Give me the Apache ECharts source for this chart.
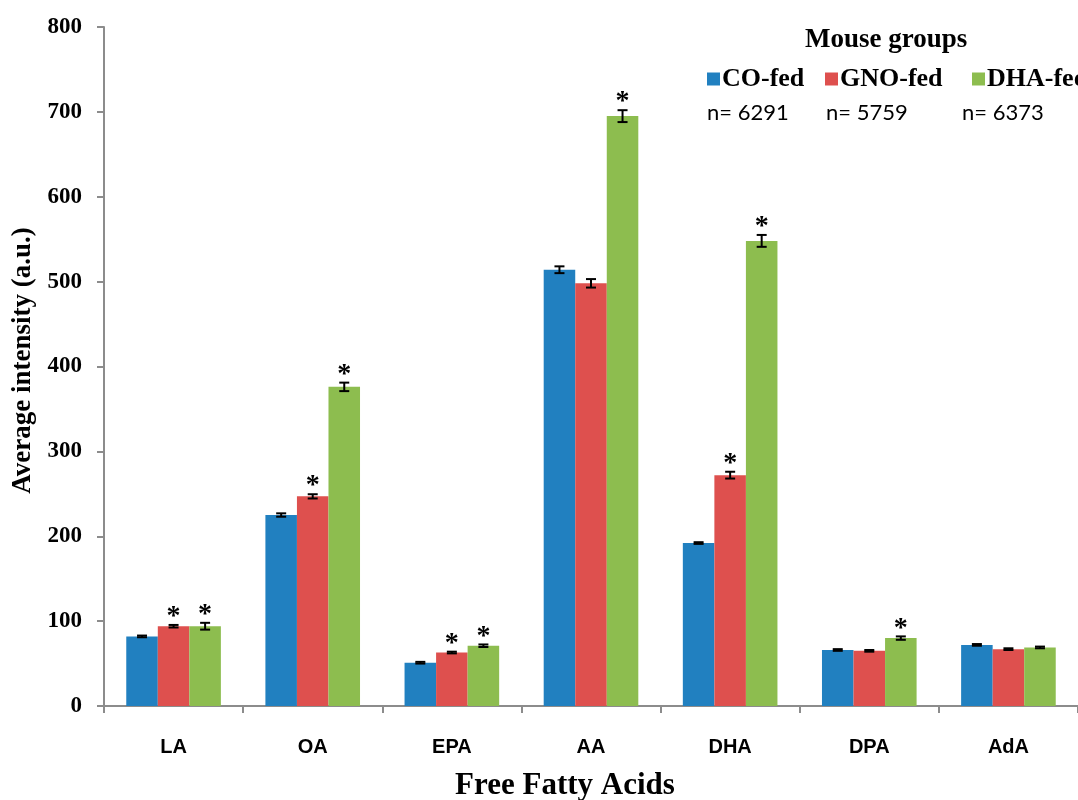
<!DOCTYPE html>
<html>
<head>
<meta charset="utf-8">
<script src="https://cdn.jsdelivr.net/npm/echarts@6/dist/echarts.min.js"></script>
<style>
html,body{margin:0;padding:0;background:#fff;}
#chart{width:1078px;height:800px;}
</style>
</head>
<body>
<div id="chart"></div>
<script>
var categories = ['LA', 'OA', 'EPA', 'AA', 'DHA', 'DPA', 'AdA'];
var groupNames = ['CO-fed', 'GNO-fed', 'DHA-fed'];
var groupN = ['n= 6291', 'n= 5759', 'n= 6373'];
var coValues  = [82, 225, 51, 514, 192, 66, 72];
var gnoValues = [94, 247, 63, 498, 272, 65, 67];
var dhaValues = [94, 376, 71, 695, 548, 80, 69];
var coErr  = [1, 2, 1, 4, 1, 1, 1];
var gnoErr = [1.5, 2.5, 1, 5, 4, 1, 1];
var dhaErr = [4, 5, 1.5, 7, 7, 2, 1];
var coSig  = [0, 0, 0, 0, 0, 0, 0];
var gnoSig = [1, 1, 1, 0, 1, 0, 0];
var dhaSig = [1, 1, 1, 1, 1, 1, 0];
var yTicks = [0, 100, 200, 300, 400, 500, 600, 700, 800];

var colors = ['#2180C0', '#DE504E', '#8DBD4F'];
var values = [coValues, gnoValues, dhaValues];
var errs = [coErr, gnoErr, dhaErr];
var sigs = [coSig, gnoSig, dhaSig];
var CAT_GAP = 0.32;

var serif = '"Liberation Serif", "Times New Roman", serif';
var sans = '"Liberation Sans", Arial, sans-serif';

var chart = echarts.init(document.getElementById('chart'), null, {renderer: 'canvas'});

function makeErrSeries(gi) {
  var data = categories.map(function (c, i) {
    return [i, values[gi][i], errs[gi][i], sigs[gi][i]];
  });
  return {
    type: 'custom',
    name: groupNames[gi] + ' err',
    data: data,
    encode: {x: 0, y: 1},
    z: 10,
    silent: true,
    clip: false,
    renderItem: function (params, api) {
      var idx = api.value(0), v = api.value(1), e = api.value(2), s = api.value(3);
      var catW = api.size([1, 0])[0];
      var barW = catW * (1 - CAT_GAP) / 3;
      var cx = api.coord([idx, v])[0] + (gi - 1) * barW;
      var yTop = api.coord([idx, v + e])[1];
      var yBot = api.coord([idx, v - e])[1];
      var cap = 5;
      var style = {stroke: '#000', lineWidth: 2};
      var children = [
        {type: 'line', shape: {x1: cx, y1: yTop, x2: cx, y2: yBot}, style: style},
        {type: 'line', shape: {x1: cx - cap, y1: yTop, x2: cx + cap, y2: yTop}, style: style},
        {type: 'line', shape: {x1: cx - cap, y1: yBot, x2: cx + cap, y2: yBot}, style: style}
      ];
      if (s) {
        children.push({
          type: 'text',
          style: {
            text: '*', x: cx, y: yTop + 6,
            align: 'center', verticalAlign: 'bottom',
            font: 'bold 28px ' + serif, fill: '#000'
          }
        });
      }
      return {type: 'group', children: children};
    }
  };
}

var series = [];
for (var g = 0; g < 3; g++) {
  series.push({
    type: 'bar',
    name: groupNames[g],
    data: values[g],
    barGap: '0%',
    barCategoryGap: (CAT_GAP * 100) + '%',
    itemStyle: {color: colors[g]},
    z: 2
  });
}
for (var g2 = 0; g2 < 3; g2++) series.push(makeErrSeries(g2));

var legendLefts = [707, 825, 972];
var legends = groupNames.map(function (n, i) {
  return {
    data: [n],
    left: legendLefts[i],
    top: 66,
    padding: 0,
    icon: 'rect',
    itemWidth: 13,
    itemHeight: 13,
    itemGap: 0,
    selectedMode: false,
    textStyle: {fontFamily: serif, fontWeight: 'bold', fontSize: 26, color: '#000', padding: [0, 0, 0, -3]}
  };
});

var nTexts = groupN.map(function (t, i) {
  return {
    type: 'text',
    left: [707, 826, 962][i],
    top: 102,
    style: {text: t, font: '22px Lato, "Open Sans", sans-serif', fill: '#000'}
  };
});

var option = {
  backgroundColor: '#fff',
  animation: false,
  color: colors,
  grid: {left: 104, right: 0, top: 27, bottom: 94, containLabel: false, outerBoundsMode: 'none'},
  legend: legends,
  graphic: [
    {
      type: 'text',
      left: 805,
      top: 27,
      style: {text: 'Mouse groups', font: 'bold 27px ' + serif, fill: '#000'}
    }
  ].concat(nTexts),
  xAxis: {
    type: 'category',
    data: categories,
    boundaryGap: true,
    axisLine: {lineStyle: {color: '#8c8c8c', width: 2}},
    axisTick: {show: true, length: 7, lineStyle: {color: '#8c8c8c', width: 2}},
    axisLabel: {margin: 31, fontFamily: sans, fontWeight: 'bold', fontSize: 20, color: '#000'},
    name: 'Free Fatty Acids',
    nameLocation: 'middle',
    nameGap: 64,
    nameTextStyle: {fontFamily: serif, fontWeight: 'bold', fontSize: 31, color: '#000', padding: [0, 52, 0, 0]}
  },
  yAxis: {
    type: 'value',
    min: 0,
    max: 800,
    interval: 100,
    splitLine: {show: false},
    axisLine: {show: true, lineStyle: {color: '#8c8c8c', width: 2}},
    axisTick: {show: true, length: 7, lineStyle: {color: '#8c8c8c', width: 2}},
    axisLabel: {
      margin: 22,
      fontFamily: serif, fontWeight: 'bold', fontSize: 23, color: '#000',
      formatter: function (v) { return yTicks.indexOf(v) >= 0 ? String(v) : ''; }
    },
    name: 'Average intensity (a.u.)',
    nameLocation: 'middle',
    nameGap: 67,
    nameTextStyle: {fontFamily: serif, fontWeight: 'bold', fontSize: 27, color: '#000', padding: [0, 0, 0, 12]}
  },
  series: series
};
chart.setOption(option);
</script>
</body>
</html>
